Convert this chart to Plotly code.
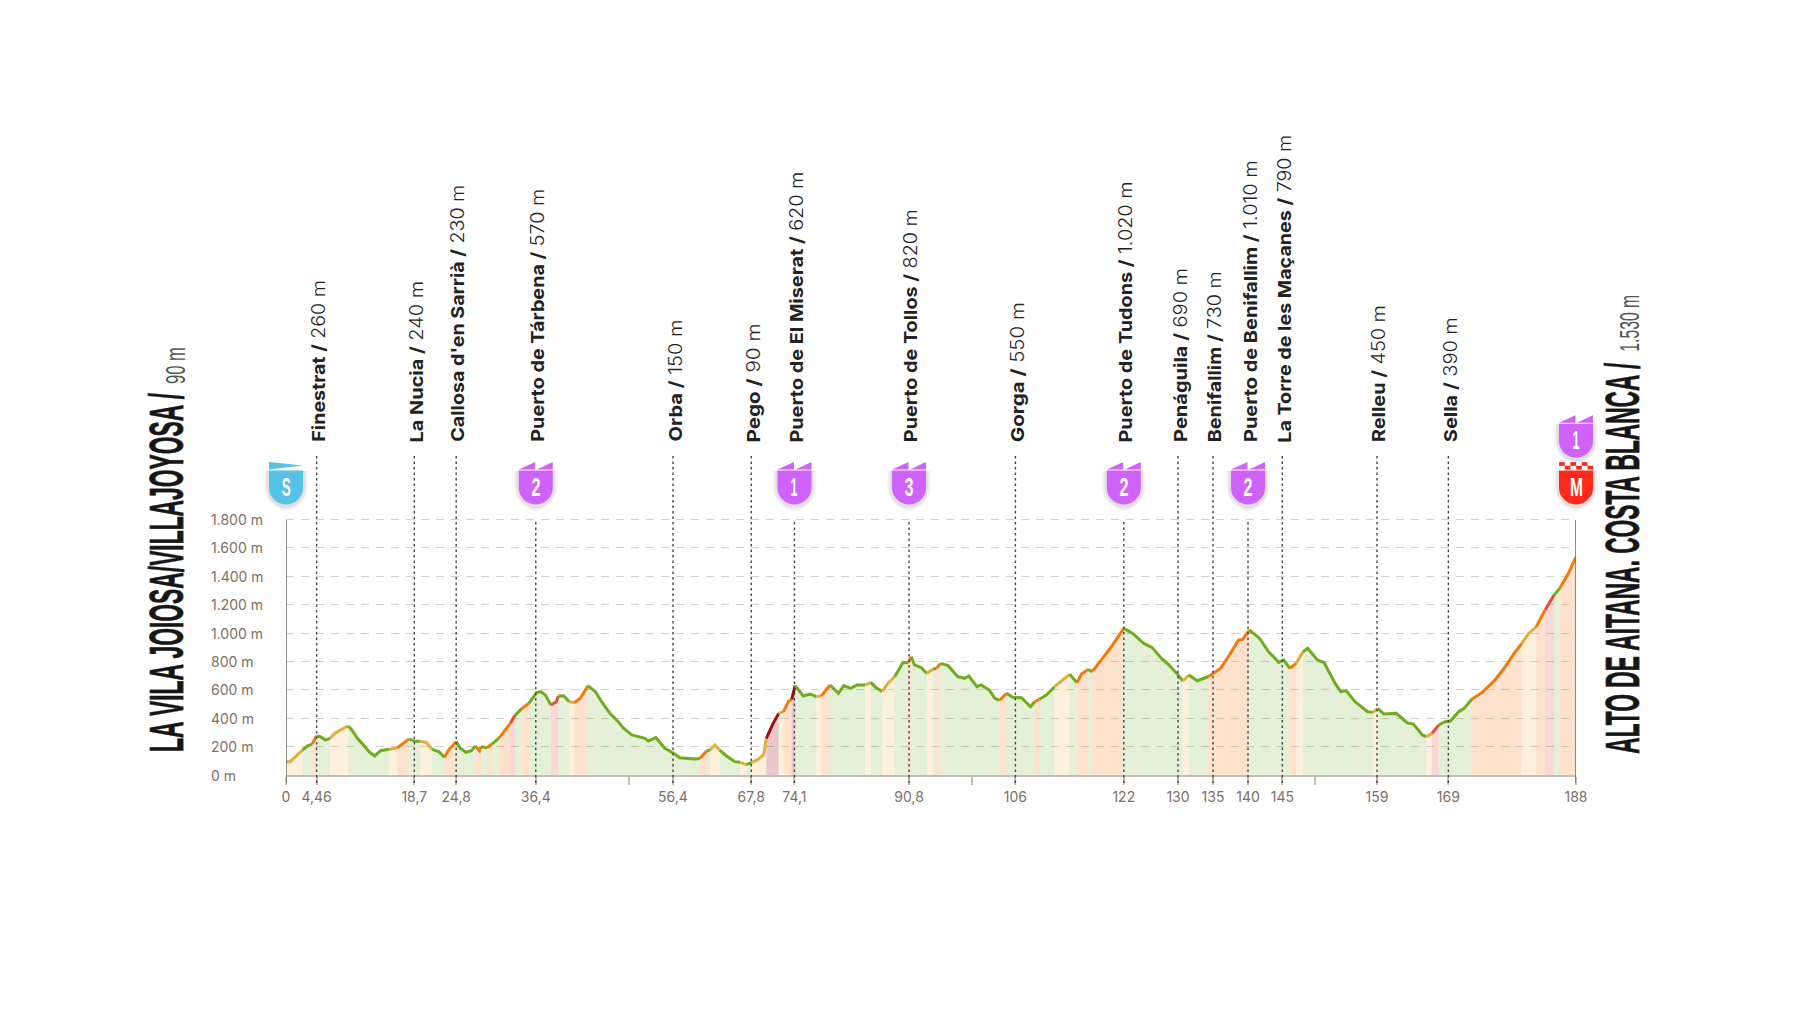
import json
import plotly.graph_objects as go

# profile
profile_km = [0, 0.6, 1.4, 2.4, 3.1, 3.8, 4.46, 5.0, 5.75, 6.4, 7.1, 7.9, 9.05, 9.6, 10.4, 11.1, 12.1, 12.9, 13.8, 15,
              16.2, 16.9, 17.9, 18.9, 19.6, 20.5, 21.3, 22.3, 23.1, 23.7, 24.8, 25.4, 26.2, 27, 27.6, 28.2, 28.4, 29.3,
              30, 31, 31.7, 32.7, 33.4, 34.4, 35.4, 36.5, 37.1, 37.8, 38.6, 39.4, 39.7, 40.5, 41.3, 42, 42.9, 44, 45.1,
              46, 47.2, 48.2, 49.2, 50.4, 52.3, 52.8, 53.9, 55.2, 56.5, 57.4, 58.4, 59.6, 60.3, 61.3, 61.8, 62.5, 63.2,
              64.2, 65.4, 66.2, 67.1, 67.9, 68.8, 69.6, 70, 71, 71.8, 72.5, 73.2, 73.7, 74.2, 75.4, 76.4, 77.3, 78,
              79.3, 80.5, 81.3, 82.3, 83.2, 84.4, 85.2, 86, 86.9, 87.7, 88.7, 89.9, 90.7, 91.1, 91.6, 92.6, 93.4, 94.3,
              94.8, 95.4, 96.5, 97.9, 98.9, 99.5, 100.7, 101.3, 102.5, 103.3, 104, 105, 105.9, 107.2, 108.5, 109.1,
              109.8, 110.8, 112, 113.2, 114.2, 115.3, 115.9, 116.9, 117.5, 118.8, 120.3, 122.1, 123.4, 125, 126.2,
              127.6, 128.6, 129.9, 130.7, 131.6, 132.8, 134.4, 135.2, 136.2, 137.5, 138.8, 139.4, 140.4, 141.9, 143.2,
              144.7, 145.4, 146.3, 147.2, 148.2, 148.9, 150.3, 151.3, 152.9, 153.7, 154.5, 155.8, 157.6, 158.4, 159.1,
              160, 161.8, 163.4, 164.3, 165.6, 166.2, 167, 168, 168.9, 169.7, 170.9, 171.7, 172.8, 174.3, 176.2, 177.7,
              179, 180.1, 181.1, 182.2, 183.5, 184.8, 185.6, 186.9, 188]
profile_ele = [94, 94, 129, 176, 204, 218, 275, 270, 246, 258, 293, 317, 345, 317, 258, 223, 164, 134, 171, 181,
               190, 218, 253, 237, 237, 228, 181, 164, 124, 176, 235, 188, 160, 171, 204, 171, 199, 192,
               218, 258, 305, 364, 422, 469, 505, 580, 587, 563, 493, 516, 556, 556, 516, 509, 540, 629, 587,
               516, 434, 387, 329, 282, 258, 239, 263, 188, 153, 122, 117, 113, 117, 169, 176, 211, 176,
               134, 94, 89, 73, 89, 110, 141, 258, 364, 434, 446, 516, 533, 629, 556, 570, 552, 556,
               634, 575, 629, 610, 634, 634, 652, 615, 589, 645, 692, 791, 793, 833, 775, 756, 716, 746,
               751, 786, 770, 692, 681, 697, 622, 634, 598, 540, 526, 575, 547, 544, 481, 516,
               533, 563, 622, 669, 709, 650, 709, 744, 728, 810, 904, 1033, 997, 927, 899,
               821, 779, 711, 662, 704, 664, 692, 716, 751, 845, 950, 955, 1021, 962, 868,
               793, 810, 751, 786, 868, 892, 810, 791, 645, 587, 594, 516, 446, 441, 469,
               429, 434, 368, 359, 282, 270, 293, 352, 375, 380, 446, 469, 533, 580, 669, 763,
               857, 927, 997, 1044, 1162, 1267, 1314, 1420, 1537]

# gradient class per stretch, g/y/o/r/d = easy to steep
band_ends = [2.2, 3.7, 4.5, 6.5, 8.9, 15, 16.3, 17.9, 20, 20.9,
             22.9, 24.8, 27.7, 28.4, 29.5, 30.3, 31, 32.5, 33.2, 34.4,
             35.4, 36, 36.6, 38.7, 39.7, 41.3, 42.4, 44, 60.3, 61,
             61.8, 63.2, 66.5, 67.4, 68.3, 69.9, 71.8, 72.6, 73.6, 74.2,
             76, 76.5, 77.2, 78, 79.4, 81, 81.6, 84.6, 85.2, 86.9,
             88.8, 90.4, 91.1, 93.4, 94.3, 94.9, 95.5, 104.1, 105, 109.4,
             110, 111.8, 113.9, 115.4, 116.7, 117.6, 122.1, 130.7, 131.6, 134.6,
             138.3, 138.8, 140.4, 146.3, 147.2, 148.3, 152.3, 153, 158.2, 159.2,
             166.2, 167, 167.9, 171.5, 172.2, 173, 175.4, 175.9, 179.6, 180.3,
             181.7, 183.5, 184.8, 185.6, 188]
band_class = ["y", "g", "o", "g", "y", "g", "y", "o", "g", "y",
              "g", "o", "g", "o", "g", "o", "g", "o", "r", "g",
              "o", "g", "o", "g", "r", "g", "y", "o", "g", "o",
              "g", "y", "g", "y", "g", "y", "d", "y", "o", "d",
              "g", "y", "g", "y", "o", "g", "y", "g", "y", "g",
              "y", "g", "o", "g", "y", "g", "o", "g", "o", "g",
              "o", "g", "y", "g", "o", "g", "o", "g", "y", "g",
              "o", "y", "o", "g", "o", "y", "g", "y", "g", "y",
              "g", "y", "r", "g", "y", "g", "o", "y", "o", "r",
              "y", "o", "r", "g", "o"]

# places along the route
place_km = [4.46, 18.7, 24.8, 36.4, 56.4, 67.8, 74.1, 90.8, 106.3, 122.1, 130, 135.1, 140.2, 145.2, 159, 169.4]
place_name = ["Finestrat", "La Nucia", "Callosa d'en Sarrià", "Puerto de Tárbena", "Orba", "Pego",
              "Puerto de El Miserat", "Puerto de Tollos", "Gorga", "Puerto de Tudons", "Penáguila", "Benifallim",
              "Puerto de Benifallim", "La Torre de les Maçanes", "Relleu", "Sella"]
place_ele = ["260", "240", "230", "570", "150", "90", "620", "820", "550", "1.020", "690", "730", "1.010", "790",
             "450", "390"]
tick_km = [0, 4.46, 18.7, 24.8, 36.4, 50, 56.4, 67.8, 74.1, 90.8, 100, 106.3, 122.1, 130, 135.1, 140.2, 145.2, 150,
           159, 169.4, 188]
tick_text = ["0", "4,46", "18,7", "24,8", "36,4", "", "56,4", "67,8", "74,1", "90,8", "", "106", "122", "130", "135",
             "140", "145", "", "159", "169", "188"]
y_ticks = [0, 200, 400, 600, 800, 1000, 1200, 1400, 1600, 1800]
y_text = ["0 m", "200 m", "400 m", "600 m", "800 m", "1.000 m", "1.200 m", "1.400 m", "1.600 m", "1.800 m"]
climb_km = [36.4, 74.1, 90.8, 122.1, 140.2, 188]
climb_cat = ["2", "1", "3", "2", "2", "1"]

# length of each rotated label on the page, font here is narrower than the original
label_px = [161.5, 161.5, 257, 253, 122, 119, 271, 233, 140, 261, 174, 171, 281.5, 308, 137, 125]

LEFT, RIGHT, TOP, BOTTOM = 285.5, 1576.3, 517.9, 775
LINE_COL = {"g": "#6fad1f", "y": "#e3ad3e", "o": "#f2790c", "r": "#e0522b", "d": "#a30d0d"}
FILL_COL = {"g": "rgba(112,170,40,0.18)", "y": "rgba(248,190,100,0.22)", "o": "rgba(248,140,50,0.24)",
            "r": "rgba(228,90,90,0.24)", "d": "rgba(165,25,40,0.24)"}
PURPLE, BLUE, RED = "#cf62fb", "#56c2e6", "#ff2a1c"
NARROW = "Liberation Sans Narrow, Liberation Sans"


def py(pixel):
    # page pixel to paper fraction
    return (BOTTOM - pixel) / (BOTTOM - TOP)


def px(pixel):
    return (pixel - LEFT) / (RIGHT - LEFT)


def seg_class(mid):
    for end, c in zip(band_ends, band_class):
        if mid <= end:
            return c
    return band_class[-1]


# split the profile into runs with one class
runs = []
start = 0
for i in range(len(profile_km) - 1):
    c = seg_class((profile_km[i] + profile_km[i + 1]) / 2)
    last = i == len(profile_km) - 2
    if last or seg_class((profile_km[i + 1] + profile_km[i + 2]) / 2) != c:
        runs.append((c, profile_km[start:i + 2], profile_ele[start:i + 2]))
        start = i + 1

fig = go.Figure()
for c, xs, ys in runs:
    fig.add_trace(go.Scatter(x=xs, y=ys, mode="lines", fill="tozeroy", fillcolor=FILL_COL[c],
                             line=dict(width=0), hoverinfo="skip", showlegend=False))
for c, xs, ys in runs:
    fig.add_trace(go.Scatter(x=xs, y=ys, mode="lines", cliponaxis=False,
                             line=dict(color=LINE_COL[c], width=3), hoverinfo="skip", showlegend=False))

shapes = []
annotations = []
squeeze = {}

# axis ends
for xv in [0, 188]:
    shapes.append(dict(type="line", xref="x", yref="paper", x0=xv, x1=xv, y0=py(783), y1=py(520),
                       line=dict(color="#77706a", width=1.6)))

# route places
for km, name, ele, ln in zip(place_km, place_name, place_ele, label_px):
    top = 520 if km in climb_km else 453
    shapes.append(dict(type="line", xref="x", yref="paper", x0=km, x1=km, y0=py(783), y1=py(top),
                       line=dict(color="#444444", width=1.4, dash="2.5px,3px")))
    annotations.append(dict(x=km, xref="x", y=py(442 - ln / 2), yref="paper", xanchor="center", yanchor="middle",
                            xshift=2, textangle=-90, showarrow=False, text="<b>%s /</b> %s m" % (name, ele),
                            font=dict(family="Inter", size=18, color="#222222", weight=300)))
    squeeze["%s / %s m" % (name, ele)] = ln


def badge(km, top, color, flags):
    def s(path, col, op=1.0):
        return dict(type="path", xref="paper", yref="paper", xsizemode="pixel", ysizemode="pixel", xanchor=km / 188,
                    yanchor=py(top), path=path, fillcolor=col, opacity=op, line=dict(width=0))
    # soft shadow
    for grow, op in [(5, 0.03), (3.5, 0.04), (2, 0.05)]:
        w = 17 + grow
        shapes.append(s("M-%s,-9 L%s,-9 L%s,-26 C%s,-38 9,-%s 0,-%s C-9,-%s -%s,-38 -%s,-26 Z"
                        % (w, w, w, w, 44 + grow, 44 + grow, 44 + grow, w, w), "#000000", op))
    shapes.append(s("M-17,-8.5 L17,-8.5 L17,-26 C17,-36 8,-42.5 0,-42.5 C-8,-42.5 -17,-36 -17,-26 Z", color))
    for p in flags:
        shapes.append(s(p, color))


PEAK = ["M-17,-7.5 L-0.5,0 L-0.5,-7.5 Z", "M1,-7.5 L17,0 L17,-7.5 Z"]
badge(0, 462, BLUE, ["M-17,0 L17,-3.5 L-17,-7.5 Z"])
for km, cat in zip(climb_km, climb_cat):
    tp = 415 if km == 188 else 462
    badge(km, tp, PURPLE, PEAK)
    annotations.append(dict(x=km, xref="x", y=py(tp + 24.5), yref="paper", xanchor="center", yanchor="middle",
                            showarrow=False, text="<b>%s</b>" % cat,
                            font=dict(family=NARROW, size=25, color="white")))

# finish badge with chequered top
checks = []
for r in range(2):
    for k in range(6):
        if (r + k) % 2 == 0:
            x0 = -17 + k * 5.7
            checks.append("M%.1f,%.1f L%.1f,%.1f L%.1f,%.1f L%.1f,%.1f Z"
                          % (x0, -r * 3.7, x0 + 5.7, -r * 3.7, x0 + 5.7, -r * 3.7 - 3.7, x0, -r * 3.7 - 3.7))
badge(188, 462, RED, checks)
for km, letter in [(188, "M"), (0, "S")]:
    annotations.append(dict(x=km, xref="x", y=py(486.5), yref="paper", xanchor="center", yanchor="middle",
                            showarrow=False, text="<b>%s</b>" % letter,
                            font=dict(family=NARROW, size=25, color="white")))

# y labels sit left aligned
for val, txt in zip(y_ticks, y_text):
    annotations.append(dict(x=px(208), xref="paper", y=val, yref="y", xanchor="left", yanchor="middle",
                            showarrow=False, text=txt, font=dict(family="Inter", size=14, color="#7d7064")))

# start and finish names
titles = [("<b>LA VILA JOIOSA/VILLAJOYOSA /</b>", 166, 572, 49, "#161616"),
          ("90 m", 175, 366, 28, "#555555"),
          ("<b>ALTO DE AITANA. COSTA BLANCA /</b>", 1622, 558, 49, "#161616"),
          ("1.530 m", 1630, 323, 28, "#555555")]
for txt, xp, yp, size, col in titles:
    annotations.append(dict(x=px(xp), xref="paper", y=py(yp), yref="paper", xanchor="center", yanchor="middle",
                            textangle=-90, showarrow=False, text=txt, font=dict(family=NARROW, size=size, color=col)))

fig.update_layout(
    width=1800, height=1013, paper_bgcolor="white", plot_bgcolor="white", showlegend=False,
    margin=dict(l=LEFT, r=1800 - RIGHT, t=TOP, b=1013 - BOTTOM, autoexpand=False),
    shapes=shapes, annotations=annotations,
)
fig.update_xaxes(range=[0, 188], tickmode="array", tickvals=tick_km, ticktext=tick_text, tickangle=0, ticks="outside",
                 ticklen=8, tickwidth=1.5, tickcolor="#c8bfb4", showgrid=False, zeroline=False, showline=True,
                 linecolor="#c8bfb4", linewidth=1.5, tickfont=dict(family="Inter", size=14, color="#7d7064"))
fig.update_yaxes(range=[0, 1810], tickmode="array", tickvals=y_ticks[1:], showticklabels=False, ticks="",
                 showgrid=True, gridcolor="#d6d0c8", gridwidth=1.4, griddash="8px,7px", zeroline=False, showline=False)

# squeeze the condensed lettering, plotly has no font stretch
squeeze.update({"LA VILA JOIOSA/VILLAJOYOSA /": 359, "90 m": 37, "ALTO DE AITANA. COSTA BLANCA /": 391, "1.530 m": 57,
                "1": 7, "2": 9, "3": 9, "S": 9, "M": 13})
post = ("var sq = %s; document.body.style.margin = '0';"
        "document.querySelectorAll('text.annotation-text').forEach(function(t){"
        "var n = sq[t.textContent]; if(n){t.setAttribute('textLength', n);"
        "t.setAttribute('lengthAdjust','spacingAndGlyphs');"
        "if(n > 300 && t.textContent.length < 35 && t.textContent === t.textContent.toUpperCase()){"
        "t.style.stroke = '#161616'; t.style.strokeWidth = '0.7px';}}});") % json.dumps(squeeze)

fig.write_html("out.html", post_script=post, config={"displayModeBar": False})
